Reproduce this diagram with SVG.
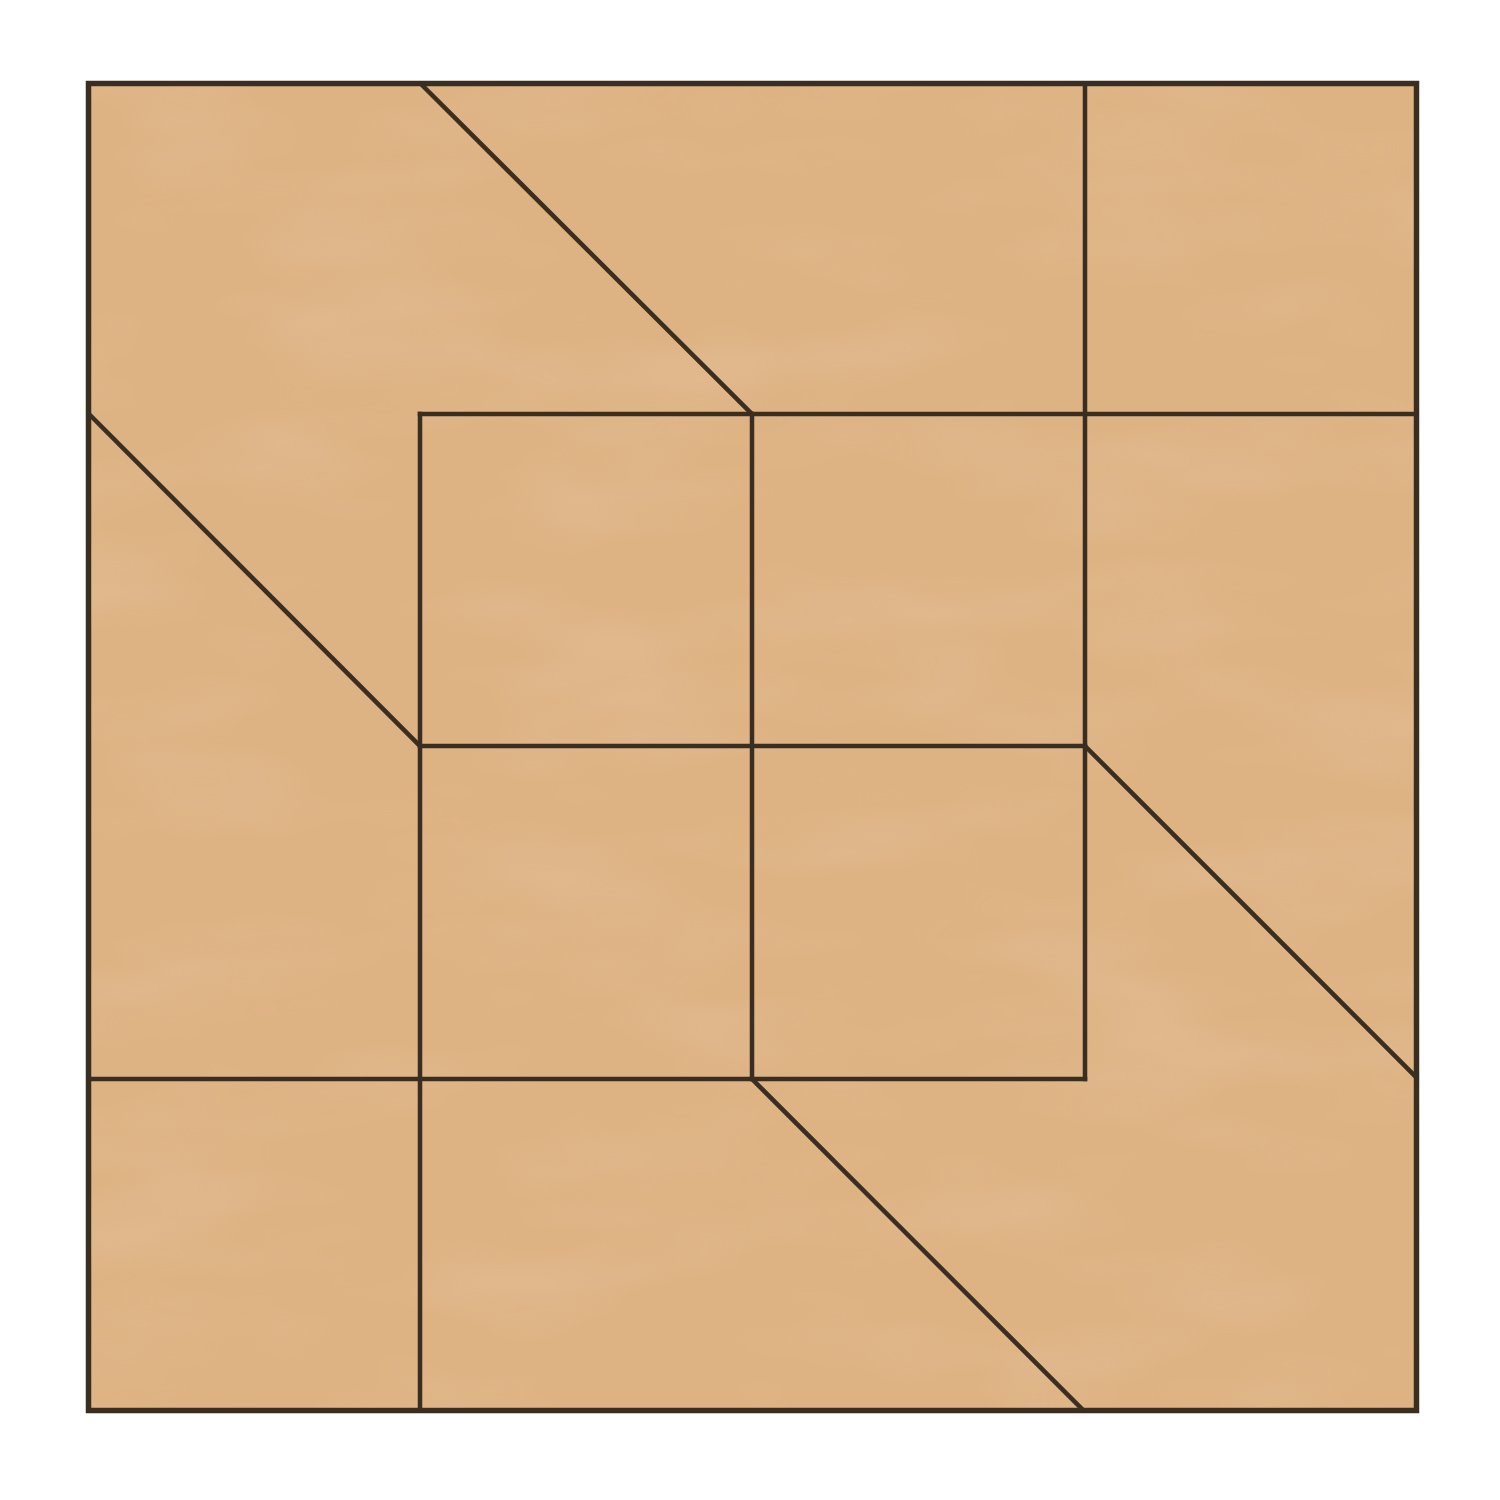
<svg xmlns="http://www.w3.org/2000/svg" width="1500" height="1500" viewBox="0 0 1500 1500">
<style>
.ln{fill:none;stroke:#3a2e21;stroke-width:4.5;stroke-linecap:square;stroke-linejoin:miter}
.bd{fill:#deb384;stroke:#3a2e21;stroke-width:5.5}
</style>
<defs>
<filter id="paper" x="0" y="0" width="100%" height="100%">
<feTurbulence type="fractalNoise" baseFrequency="0.004 0.012" numOctaves="3" seed="7" result="n"/>
<feColorMatrix in="n" type="matrix" values="0 0 0 0 0.80  0 0 0 0 0.62  0 0 0 0 0.42  0 0 0 -1.6 0.9" result="c"/>
<feComposite in="c" in2="SourceGraphic" operator="in"/>
</filter>
</defs>
<rect width="1500" height="1500" fill="#ffffff"/>
<g id="block">
<rect class="bd" x="88.5" y="83.5" width="1328" height="1327"/>
<rect x="91" y="86" width="1323" height="1322" fill="#deb384" filter="url(#paper)" opacity="0.3"/>
</g>
<g id="connectors">
<line class="ln" x1="421" y1="84" x2="752" y2="414"/>
<line class="ln" x1="1085" y1="84" x2="1085" y2="1079"/>
<line class="ln" x1="420" y1="414" x2="1416" y2="414"/>
<line class="ln" x1="89" y1="414" x2="420" y2="746"/>
<line class="ln" x1="420" y1="414" x2="420" y2="1410"/>
<line class="ln" x1="752" y1="414" x2="752" y2="1079"/>
<line class="ln" x1="420" y1="746" x2="1085" y2="746"/>
<line class="ln" x1="1085" y1="746" x2="1416" y2="1077"/>
<line class="ln" x1="89" y1="1079" x2="1085" y2="1079"/>
<line class="ln" x1="752" y1="1079" x2="1083" y2="1410"/>
</g>
</svg>
